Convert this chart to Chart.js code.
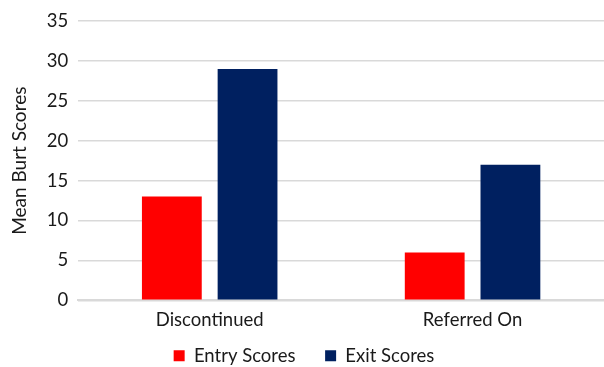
<!DOCTYPE html>
<html>
<head>
<meta charset="utf-8">
<script src="https://cdn.jsdelivr.net/npm/chart.js@4"></script>
<style>
  html, body { margin: 0; padding: 0; background: #fff; overflow: hidden; }
  #wrap { width: 604px; height: 375px; }
</style>
</head>
<body>
<div id="wrap"><canvas id="chart"></canvas></div>
<script>
const categories = ['Discontinued', 'Referred On'];
const entryScores = [13, 6];
const exitScores = [29, 17];
const yTicks = [0, 5, 10, 15, 20, 25, 30, 35];

Chart.defaults.font.family = "Lato, 'Open Sans', sans-serif";
Chart.defaults.color = '#1a1a1a';

// default legend items, with a little extra room after the first one
const legendItems = chart =>
    Chart.defaults.plugins.legend.labels.generateLabels(chart)
        .map((item, i) => i === 0 ? { ...item, text: item.text + '     ' } : item);

const ctx = document.getElementById('chart').getContext('2d');
new Chart(ctx, {
    type: 'bar',
    data: {
        labels: categories,
        datasets: [
            {
                label: 'Entry Scores',
                data: entryScores,
                backgroundColor: '#FF0000',
                categoryPercentage: 0.576,
                barPercentage: 0.79
            },
            {
                label: 'Exit Scores',
                data: exitScores,
                backgroundColor: '#002060',
                categoryPercentage: 0.576,
                barPercentage: 0.79
            }
        ]
    },
    options: {
        responsive: true,
        maintainAspectRatio: false,
        animation: false,
        layout: { padding: { top: 11, right: 0, left: 4, bottom: 0 } },
        plugins: {
            tooltip: { enabled: false },
            legend: {
                position: 'bottom',
                labels: {
                    boxWidth: 11,
                    boxHeight: 11,
                    padding: 6,
                    font: { size: 18.5 },
                    generateLabels: legendItems
                }
            }
        },
        scales: {
            x: {
                grid: { display: false, drawTicks: false },
                border: { color: '#d9d9d9', width: 2 },
                ticks: { font: { size: 18.5 }, padding: 9 }
            },
            y: {
                min: 0,
                max: 35,
                afterBuildTicks: axis => { axis.ticks = yTicks.map(v => ({ value: v })); },
                grid: { color: '#d9d9d9', lineWidth: 1.5, drawTicks: false },
                border: { display: false },
                ticks: { font: { size: 18.5 }, padding: 10 },
                title: {
                    display: true,
                    text: 'Mean Burt Scores',
                    font: { size: 19 },
                    padding: { bottom: 6 }
                }
            }
        }
    }
});
</script>
</body>
</html>
